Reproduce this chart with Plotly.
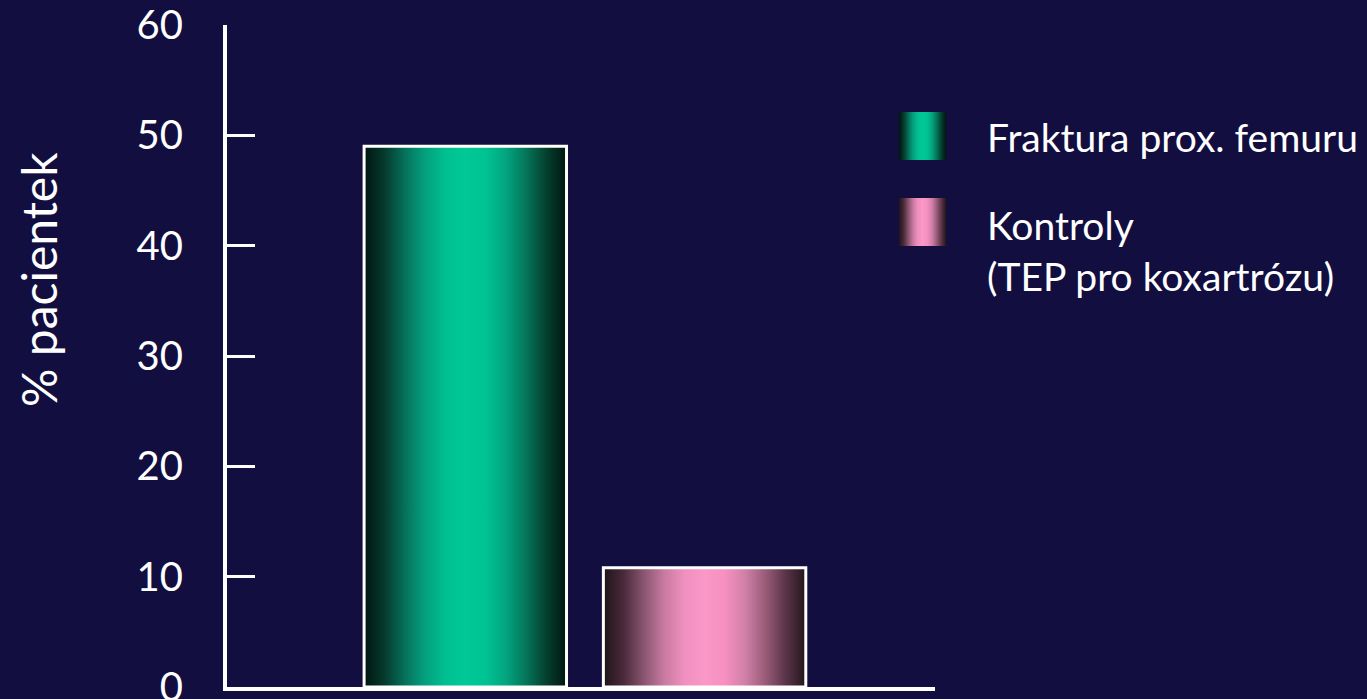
import plotly.graph_objects as go

# Data
groups = ["Fraktura prox. femuru", "Kontroly<br>(TEP pro koxartrózu)"]
percent_patients = [49.0, 10.8]
y_ticks = [0, 10, 20, 30, 40, 50, 60]

# Styling
BG = "#120f40"
FONT = "Lato, 'Open Sans', sans-serif"
green_scale = [[0.0, "#011510"], [0.1, "#053a2c"], [0.2, "#06705a"], [0.3, "#03a07e"],
               [0.4, "#00bf90"], [0.5, "#00c896"], [0.6, "#00c292"], [0.7, "#03a580"],
               [0.8, "#05755a"], [0.9, "#04402f"], [1.0, "#011510"]]
pink_scale = [[0.0, "#1e1418"], [0.1, "#4a2a3a"], [0.2, "#8a5570"], [0.3, "#c87aa0"],
              [0.4, "#f090c0"], [0.5, "#fa98c8"], [0.6, "#f690c0"], [0.7, "#d080a8"],
              [0.8, "#9a5c78"], [0.9, "#5a3448"], [1.0, "#22161c"]]
scales = [green_scale, pink_scale]

BAR_W = 0.846
fig = go.Figure()

# Bars drawn as filled rectangles so the fill can carry a horizontal gradient
for i, (name, val) in enumerate(zip(groups, percent_patients)):
    x0, x1 = i - BAR_W / 2, i + BAR_W / 2
    fig.add_trace(go.Scatter(
        x=[x0, x0, x1, x1, x0], y=[0, val, val, 0, 0],
        mode="lines", fill="toself",
        fillgradient=dict(type="horizontal", colorscale=scales[i]),
        line=dict(color="white", width=3),
        name=name, showlegend=False, hoverinfo="skip",
    ))

# Legend swatches on a helper axis pair
swatch_rows = [(0.642, 1.0), (0.0, 0.358)]
for i, (lo, hi) in enumerate(swatch_rows):
    fig.add_trace(go.Scatter(
        x=[0, 0, 1, 1, 0], y=[lo, hi, hi, lo, lo],
        xaxis="x2", yaxis="y2",
        mode="lines", fill="toself",
        fillgradient=dict(type="horizontal", colorscale=scales[i]),
        line=dict(width=0), showlegend=False, hoverinfo="skip",
    ))

W, H = 1367, 699
ML, MT, MB = 227, 25, 12
plot_w = W - ML
plot_h = H - MT - MB

def px_x(p):
    return (p - ML) / plot_w

def px_y(p):
    return (H - MB - p) / plot_h

fig.update_layout(
    width=W, height=H,
    margin=dict(l=ML, r=0, t=MT, b=MB, autoexpand=False),
    paper_bgcolor=BG, plot_bgcolor=BG,
    font=dict(family=FONT, color="white"),
    showlegend=False,
    xaxis=dict(domain=[0, 708 / plot_w], range=[-0.996, 1.963],
               showline=True, linecolor="white", linewidth=4,
               showgrid=False, zeroline=False, showticklabels=False, ticks="",
               automargin=False),
    yaxis=dict(range=[0, 60], tickvals=y_ticks,
               showline=True, linecolor="white", linewidth=4,
               ticks="inside", ticklen=28, tickwidth=3, tickcolor="white",
               showgrid=False, zeroline=False, automargin=False,
               tickfont=dict(size=40, color="white", family=FONT),
               ticklabelstandoff=32, ticklabeloverflow="allow"),
    xaxis2=dict(domain=[px_x(899), px_x(946)], range=[0, 1], visible=False,
                anchor="y2", fixedrange=True),
    yaxis2=dict(domain=[px_y(246), px_y(112)], range=[0, 1], visible=False,
                anchor="x2", fixedrange=True),
)

# Y axis title
fig.add_annotation(
    x=px_x(38), y=px_y(280), xref="paper", yref="paper",
    text="% pacientek", textangle=-90, showarrow=False,
    xanchor="center", yanchor="middle",
    font=dict(size=48, color="white", family=FONT),
)

legend_text_y = [137, 250]
for txt, py in zip(groups, legend_text_y):
    fig.add_annotation(
        x=px_x(985), y=px_y(py), xref="paper", yref="paper",
        text=txt, showarrow=False, xanchor="left", yanchor="middle", align="left",
        font=dict(size=39, color="white", family=FONT),
    )

fig.write_html("out.html")
